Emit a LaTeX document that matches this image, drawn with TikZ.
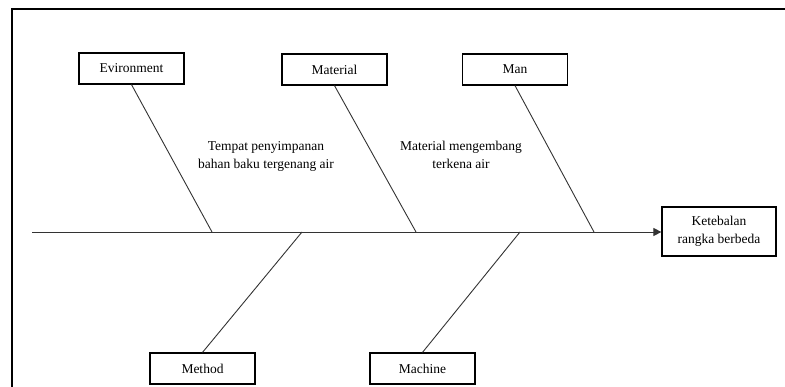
\documentclass[tikz,border=0pt]{standalone}
\usepackage{fontspec}
\setmainfont{Liberation Serif}
\usetikzlibrary{arrows.meta}
\begin{document}
\begin{tikzpicture}[x=1pt,y=-1pt,
  cause/.style={draw, line width=1.2pt, minimum width=105pt, minimum height=31pt, inner sep=0pt, font=\fontsize{13.5}{16}\selectfont},
  effect/.style={draw, line width=1.2pt, minimum width=114pt, minimum height=49pt, inner sep=0pt, align=center, font=\fontsize{13.5}{18}\selectfont},
  note/.style={align=center, inner sep=0pt, font=\fontsize{13.5}{18}\selectfont},
  bone/.style={line width=0.9pt, draw=black!80}]
\useasboundingbox (0,0) rectangle (785,387);
\draw[line width=2.5pt] (12,387) -- (12,9) -- (785,9);
% boxes
\node[cause] (env) at (131.5,68.5) {Evironment};
\node[cause] (mat) at (334.5,69.5) {Material};
\node[cause] (man) at (515,69.5) {Man};
\node[cause] (met) at (202.5,368.5) {Method};
\node[cause] (mac) at (422.5,368.5) {Machine};
\node[effect] (eff) at (719,231.5) {Ketebalan\\rangka berbeda};
% spine
\coordinate (tail) at (32,232);
\draw[bone, -{Triangle[length=8pt,width=8pt]}] (tail) -- (eff.west |- tail);
% bones
\coordinate (j1) at (212,232);
\coordinate (j2) at (416,232);
\coordinate (j3) at (594,232);
\coordinate (j4) at (302,232);
\coordinate (j5) at (520,232);
\draw[bone] (env.south) -- (j1);
\draw[bone] (mat.south) -- (j2);
\draw[bone] (man.south) -- (j3);
\draw[bone] (met.north) -- (j4);
\draw[bone] (mac.north) -- (j5);
% notes
\node[note] (n1) at (266,156) {Tempat penyimpanan\\bahan baku tergenang air};
\node[note] (n2) at (461,155) {Material mengembang\\terkena air};
\end{tikzpicture}
\end{document}
